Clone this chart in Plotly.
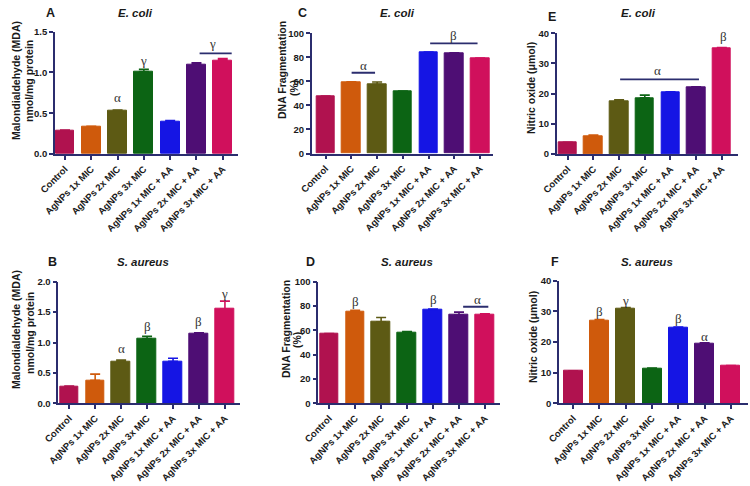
import plotly.graph_objects as go

W, H = 750, 486

categories = ["Control", "AgNPs 1x MIC", "AgNPs 2x MIC", "AgNPs 3x MIC",
              "AgNPs 1x MIC + AA", "AgNPs 2x MIC + AA", "AgNPs 3x MIC + AA"]

mda_ecoli = [0.29, 0.33, 0.53, 1.01, 0.40, 1.10, 1.15]
mda_ecoli_sem = [0.005, 0.01, 0.01, 0.03, 0.01, 0.02, 0.02]
mda_saureus = [0.28, 0.38, 0.69, 1.06, 0.69, 1.14, 1.55]
mda_saureus_sem = [0.005, 0.10, 0.02, 0.04, 0.05, 0.02, 0.13]
dna_ecoli = [47.5, 59.0, 57.5, 51.5, 84.0, 83.5, 79.0]
dna_ecoli_sem = [0.3, 0.6, 2.0, 0.5, 0.3, 0.3, 0.5]
dna_saureus = [57.0, 75.5, 67.0, 58.0, 77.0, 72.5, 72.5]
dna_saureus_sem = [0.3, 1.0, 3.5, 1.0, 0.5, 2.5, 1.0]
no_ecoli = [3.8, 6.0, 17.6, 18.6, 20.4, 22.0, 35.0]
no_ecoli_sem = [0.1, 0.3, 0.4, 0.9, 0.2, 0.3, 0.3]
no_saureus = [10.5, 26.8, 31.0, 11.3, 24.8, 19.3, 12.2]
no_saureus_sem = [0.1, 0.5, 0.2, 0.2, 0.1, 0.4, 0.1]

bar_colors = ["#B0124F", "#CF5A0C", "#5D5A14", "#0C6414", "#1515E4", "#4E0E74", "#D0105C"]

FONT = "Liberation Sans, Arial, sans-serif"
SERIF = "Liberation Serif, Times New Roman, serif"
AXIS_COLOR = "#2B2D6E"
TEXT_COLOR = "#1A1A1A"

panels = [
    dict(letter="A", title="E. coli", values=mda_ecoli, errs=mda_ecoli_sem,
         yrange=[0, 1.5], dtick=0.5, fmt=".1f",
         xdom=(55, 238), ydom=(154, 31.7), xrange=(-0.38, 6.58),
         letter_pos=(50, 13), title_pos=(135, 13),
         ytitle=[("Malondialdehyde (MDA)", 16, 81), ("nmol/mg protein", 29, 81)],
         marks=[(2, 0.69, "α"), (3, 1.15, "γ"), (5.6, 1.36, "γ")],
         lines=[(5.12, 6.34, 1.235)]),
    dict(letter="C", title="E. coli", values=dna_ecoli, errs=dna_ecoli_sem,
         yrange=[0, 100], dtick=20, fmt="d",
         xdom=(311.7, 493), ydom=(153.5, 33.3), xrange=(-0.54, 6.5),
         letter_pos=(302, 13), title_pos=(397, 13),
         ytitle=[("DNA Fragmentation", 282, 70), ("(%)", 294, 88)],
         marks=[(1.46, 73.6, "α"), (4.95, 98.0, "β")],
         lines=[(1.01, 1.92, 67.2), (4.06, 5.9, 91.7)]),
    dict(letter="E", title="E. coli", values=no_ecoli, errs=no_ecoli_sem,
         yrange=[0, 40], dtick=10, fmt="d",
         xdom=(556.7, 738), ydom=(154, 33.3), xrange=(-0.43, 6.63),
         letter_pos=(552, 17), title_pos=(638, 13),
         ytitle=[("Nitric oxide (μmol)", 531, 88)],
         marks=[(3.5, 27.8, "α"), (6.05, 39.0, "β")],
         lines=[(2.04, 5.11, 24.76)]),
    dict(letter="B", title="S. aureus", values=mda_saureus, errs=mda_saureus_sem,
         yrange=[0, 2.0], dtick=0.5, fmt=".1f",
         xdom=(58.3, 240), ydom=(403.3, 281.7), xrange=(-0.42, 6.58),
         letter_pos=(52, 262), title_pos=(143, 262),
         ytitle=[("Malondialdehyde (MDA)", 16, 330), ("nmol/mg protein", 30, 333)],
         marks=[(2, 0.9, "α"), (3, 1.27, "β"), (5, 1.34, "β"), (6, 1.81, "γ")],
         lines=[]),
    dict(letter="D", title="S. aureus", values=dna_saureus, errs=dna_saureus_sem,
         yrange=[0, 100], dtick=20, fmt="d",
         xdom=(318.3, 500), ydom=(403.3, 281.7), xrange=(-0.42, 6.58),
         letter_pos=(310, 262), title_pos=(407, 262),
         ytitle=[("DNA Fragmentation", 286, 329), ("(%)", 297, 340)],
         marks=[(1, 83.5, "β"), (4, 85.5, "β"), (5.7, 85.5, "α")],
         lines=[(5.16, 6.13, 79.4)]),
    dict(letter="F", title="S. aureus", values=no_saureus, errs=no_saureus_sem,
         yrange=[0, 40], dtick=10, fmt="d",
         xdom=(559, 748), ydom=(403.3, 280.7), xrange=(-0.54, 6.65),
         letter_pos=(555, 262), title_pos=(647, 262),
         ytitle=[("Nitric oxide (μmol)", 533, 337)],
         marks=[(1, 29.9, "β"), (2, 33.7, "γ"), (4, 27.7, "β"), (5, 21.7, "α")],
         lines=[]),
]

fig = go.Figure()
annotations = []
shapes = []
layout_axes = {}

for k, p in enumerate(panels, start=1):
    xa = "x" if k == 1 else f"x{k}"
    ya = "y" if k == 1 else f"y{k}"
    xkey = "xaxis" if k == 1 else f"xaxis{k}"
    ykey = "yaxis" if k == 1 else f"yaxis{k}"
    for i, cat in enumerate(categories):
        c = bar_colors[i]
        fig.add_trace(go.Bar(
            x=[i], y=[p["values"][i]], width=0.72,
            marker=dict(color=c, line=dict(color=c, width=1)),
            error_y=dict(type="data", array=[p["errs"][i]], arrayminus=[0],
                         symmetric=False, color=c, thickness=1.6, width=5),
            xaxis=xa, yaxis=ya, showlegend=False, name=cat,
        ))
    layout_axes[xkey] = dict(
        domain=[p["xdom"][0] / W, p["xdom"][1] / W], anchor=ya,
        range=list(p["xrange"]), tickmode="array",
        tickvals=list(range(len(categories))), ticktext=categories,
        tickangle=-45, ticks="outside", ticklen=4, tickwidth=1.5,
        tickcolor=AXIS_COLOR, showline=True, linecolor=AXIS_COLOR, linewidth=1.6,
        showgrid=False, zeroline=False, automargin=False,
        tickfont=dict(family=FONT, size=9.5, color=TEXT_COLOR, weight="bold"),
        fixedrange=True,
    )
    layout_axes[ykey] = dict(
        domain=[1 - p["ydom"][0] / H, 1 - p["ydom"][1] / H], anchor=xa,
        range=p["yrange"], dtick=p["dtick"], tick0=0, tickformat=p["fmt"],
        ticks="outside", ticklen=4, tickwidth=1.5, tickcolor=AXIS_COLOR,
        showline=True, linecolor=AXIS_COLOR, linewidth=1.6,
        showgrid=False, zeroline=False, automargin=False,
        tickfont=dict(family=FONT, size=9.5, color=TEXT_COLOR, weight="bold"),
        fixedrange=True,
    )
    annotations.append(dict(
        text=f"<b>{p['letter']}</b>", xref="paper", yref="paper",
        x=p["letter_pos"][0] / W, y=1 - p["letter_pos"][1] / H,
        showarrow=False, xanchor="center", yanchor="middle",
        font=dict(family=FONT, size=12.5, color=TEXT_COLOR)))
    annotations.append(dict(
        text=f"<b><i>{p['title']}</i></b>", xref="paper", yref="paper",
        x=p["title_pos"][0] / W, y=1 - p["title_pos"][1] / H,
        showarrow=False, xanchor="center", yanchor="middle",
        font=dict(family=FONT, size=11.5, color=TEXT_COLOR)))
    for txt, px, py in p["ytitle"]:
        annotations.append(dict(
            text=f"<b>{txt}</b>", xref="paper", yref="paper",
            x=px / W, y=1 - py / H, textangle=-90,
            showarrow=False, xanchor="center", yanchor="middle",
            font=dict(family=FONT, size=10.5, color=TEXT_COLOR)))
    for mx, my, mt in p["marks"]:
        annotations.append(dict(
            text=mt, xref=xa, yref=ya, x=mx, y=my,
            showarrow=False, xanchor="center", yanchor="middle",
            font=dict(family=SERIF, size=13, color="#333333")))
    for x0, x1, ly in p["lines"]:
        shapes.append(dict(type="line", xref=xa, yref=ya, x0=x0, x1=x1, y0=ly, y1=ly,
                           line=dict(color=AXIS_COLOR, width=1.8)))

fig.update_layout(
    width=W, height=H,
    margin=dict(l=0, r=0, t=0, b=0, autoexpand=False),
    paper_bgcolor="white", plot_bgcolor="white",
    annotations=annotations, shapes=shapes,
    bargap=0, showlegend=False,
    **layout_axes,
)

fig.write_html("out.html", config={"displayModeBar": False},
               post_script="document.body.style.margin='0';document.body.style.overflow='hidden';")
